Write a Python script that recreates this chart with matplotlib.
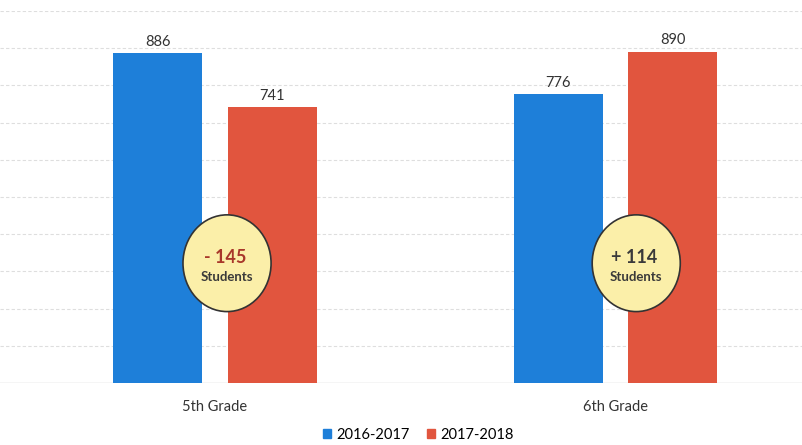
import matplotlib
matplotlib.use("Agg")
import matplotlib.pyplot as plt
from matplotlib.patches import Ellipse, Patch
import numpy as np

categories = ["5th Grade", "6th Grade"]
series_names = ["2016-2017", "2017-2018"]
values_2016 = [886, 776]
values_2017 = [741, 890]
change_labels = ["- 145", "+ 114"]
change_colors = ["#A8372A", "#3A3A3A"]

blue = "#1E7FD9"
red = "#E1553E"

plt.rcParams['font.family'] = ['Lato', 'DejaVu Sans']

fig = plt.figure(figsize=(8.02, 4.45), dpi=100)
ax = fig.add_axes([0.0, 62 / 445, 1.0, 372 / 445])

x = np.arange(len(categories))
w = 0.2225
off = 0.143
b1 = ax.bar(x - off, values_2016, w, color=blue, zorder=3)
b2 = ax.bar(x + off, values_2017, w, color=red, zorder=3)

for bars in (b1, b2):
    for r in bars:
        ax.text(r.get_x() + r.get_width() / 2, r.get_height() + 12, f"{int(r.get_height())}",
                ha="center", va="bottom", fontsize=10.5, color="#333333", zorder=4)

ax.set_xlim(-0.537, 1.466)
ax.set_ylim(0, 1000)
for yv in range(100, 1001, 100):
    ax.axhline(yv, color="#dedede", lw=0.8, ls=(0, (3, 2)), zorder=1)
ax.axhline(0, color="#d0d0d0", lw=1.0, zorder=2)

ell_dx = [0.03, 0.052]
for i in range(len(categories)):
    cx = x[i] + ell_dx[i]
    e = Ellipse((cx, 322), 0.22, 260, facecolor="#FBEFA9", edgecolor="#333333", lw=1.2, zorder=5)
    ax.add_patch(e)
    ax.text(cx - 0.005, 337, change_labels[i], ha="center", va="center", fontsize=13,
            fontweight="bold", color=change_colors[i], zorder=6)
    ax.text(cx, 285, "Students", ha="center", va="center", fontsize=9.5,
            fontweight="bold", color="#3A3A3A", zorder=6)

ax.set_xticks(x)
ax.set_xticklabels(categories, fontsize=10.5, color="#333333")
ax.tick_params(axis="x", length=0, pad=12)
ax.set_yticks([])
for s in ax.spines.values():
    s.set_visible(False)

handles = [Patch(color=blue), Patch(color=red)]
fig.legend(handles, series_names, loc="center", bbox_to_anchor=(418 / 802, 1 - 435 / 445),
           ncol=2, frameon=False, fontsize=10.5, handlelength=0.6, handleheight=0.6,
           handletextpad=0.3, columnspacing=1.2)

fig.savefig("out.png", dpi=100)
